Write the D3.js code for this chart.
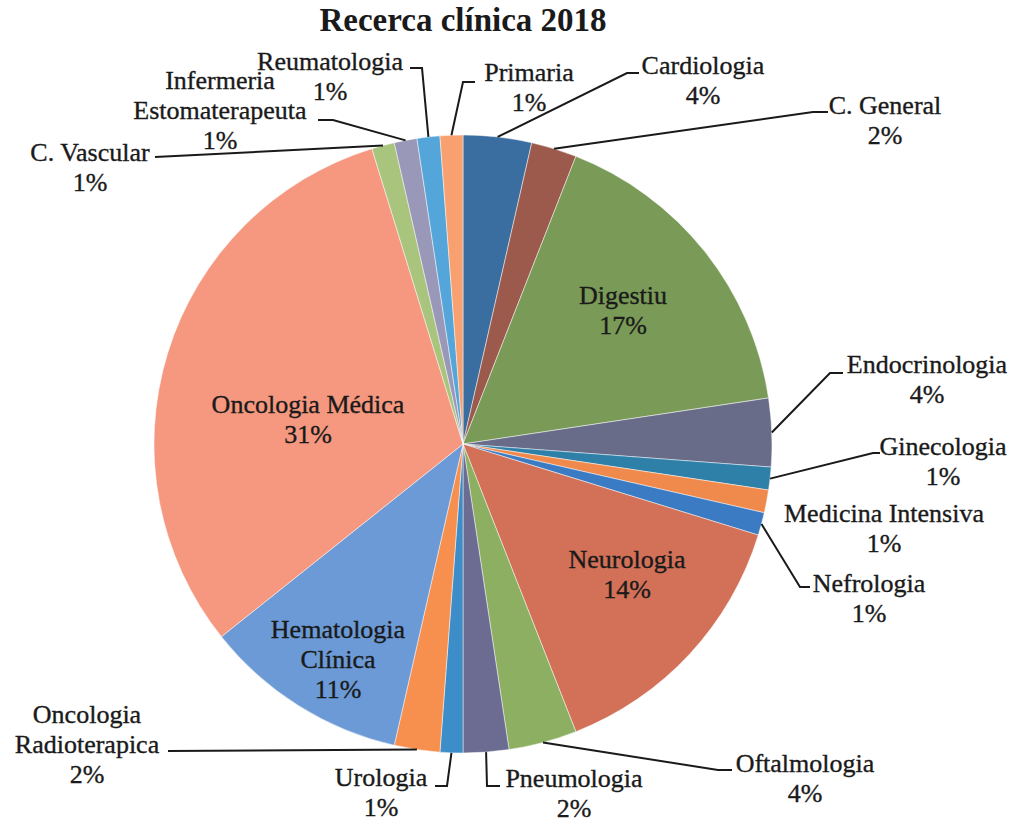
<!DOCTYPE html>
<html>
<head>
<meta charset="utf-8">
<script src="https://cdn.jsdelivr.net/npm/d3@7"></script>
<style>
  body { margin: 0; background: #fff; }
  text { font-family: "Liberation Serif", "DejaVu Serif", serif; fill: #1a1a1a; }
  text.label { stroke: #1a1a1a; stroke-width: 0.35px; }
</style>
</head>
<body>
<div id="chart"></div>
<script>
// slices clockwise from 12 o'clock
var categories = ["Cardiologia", "C. General", "Digestiu", "Endocrinologia", "Ginecologia",
  "Medicina Intensiva", "Nefrologia", "Neurologia", "Oftalmologia", "Pneumologia", "Urologia",
  "Oncologia Radioterapica", "Hematologia Clínica", "Oncologia Médica", "C. Vascular",
  "Infermeria Estomaterapeuta", "Reumatologia", "Primaria"];
var counts = [3, 2, 14, 3, 1, 1, 1, 12, 3, 2, 1, 2, 9, 26, 1, 1, 1, 1];
var colors = ["#3b6ea0", "#9c5a4c", "#7a9a58", "#686c88", "#2f80a8",
  "#f08a4c", "#3b7bc4", "#d27058", "#8daf62", "#6c6c93", "#3d8dc8",
  "#f78f4f", "#6b9ad6", "#f5987f", "#a9c47c",
  "#9a98b8", "#54a6da", "#f9a070"];

var width = 1016, height = 822;
var cx = 463, cy = 444, radius = 309;
var lineH = 30;

// label placement: text lines, center x, first baseline y, leader bends (null = none)
var labelLayout = {
  "Cardiologia": { lines: ["Cardiologia"], x: 703, y: 74, bends: [[627, 73], [639, 73]] },
  "C. General": { lines: ["C. General"], x: 885, y: 114, bends: [[813, 112], [828, 112]] },
  "Digestiu": { lines: ["Digestiu"], x: 623, y: 304, inside: true },
  "Endocrinologia": { lines: ["Endocrinologia"], x: 927, y: 373, bends: [[830, 373], [843, 373]] },
  "Ginecologia": { lines: ["Ginecologia"], x: 943, y: 455, bends: [[873, 453], [880, 453]] },
  "Medicina Intensiva": { lines: ["Medicina Intensiva"], x: 884, y: 522, bends: null },
  "Nefrologia": { lines: ["Nefrologia"], x: 869, y: 592, bends: [[800, 587], [810, 587]] },
  "Neurologia": { lines: ["Neurologia"], x: 627, y: 568, inside: true },
  "Oftalmologia": { lines: ["Oftalmologia"], x: 805, y: 772, bends: [[718, 770], [732, 770]] },
  "Pneumologia": { lines: ["Pneumologia"], x: 574, y: 787, bends: [[487, 786], [500, 786]] },
  "Urologia": { lines: ["Urologia"], x: 381, y: 786, bends: [[447, 786], [435, 786]] },
  "Oncologia Radioterapica": { lines: ["Oncologia", "Radioterapica"], x: 87, y: 723, bends: [[168, 751]] },
  "Hematologia Clínica": { lines: ["Hematologia", "Clínica"], x: 338, y: 638, inside: true },
  "Oncologia Médica": { lines: ["Oncologia Médica"], x: 308, y: 413, inside: true },
  "C. Vascular": { lines: ["C. Vascular"], x: 90, y: 161, bends: [[155, 157]] },
  "Infermeria Estomaterapeuta": { lines: ["Infermeria", "Estomaterapeuta"], x: 220, y: 89, bends: [[333, 120], [318, 120]] },
  "Reumatologia": { lines: ["Reumatologia"], x: 330, y: 70, bends: [[422, 68], [410, 68]] },
  "Primaria": { lines: ["Primaria"], x: 529, y: 81, bends: [[463, 82], [475, 82]] }
};

var total = d3.sum(counts);
var data = categories.map(function (c, i) { return { name: c, value: counts[i], color: colors[i] }; });

var svg = d3.select("#chart").append("svg")
  .attr("width", width)
  .attr("height", height);

svg.append("text")
  .attr("x", cx)
  .attr("y", 31)
  .attr("text-anchor", "middle")
  .style("font-size", "33px")
  .style("font-weight", "bold")
  .text("Recerca clínica 2018");

var pie = d3.pie().sort(null).value(function (d) { return d.value; });
var arc = d3.arc().innerRadius(0).outerRadius(radius);
var arcs = pie(data);

var g = svg.append("g").attr("transform", "translate(" + cx + "," + cy + ")");

g.selectAll("path.slice")
  .data(arcs)
  .enter().append("path")
  .attr("class", "slice")
  .attr("d", arc)
  .attr("fill", function (d) { return d.data.color; })
  .attr("stroke", "#ffffff")
  .attr("stroke-opacity", 0.6)
  .attr("stroke-width", 0.8);

// leader lines from slice edge at its mid angle
var line = d3.line();
svg.selectAll("path.leader")
  .data(arcs.filter(function (d) { return labelLayout[d.data.name].bends; }))
  .enter().append("path")
  .attr("class", "leader")
  .attr("d", function (d) {
    var a = (d.startAngle + d.endAngle) / 2;
    var start = [cx + radius * Math.sin(a), cy - radius * Math.cos(a)];
    return line([start].concat(labelLayout[d.data.name].bends));
  })
  .attr("fill", "none")
  .attr("stroke", "#1a1a1a")
  .attr("stroke-width", 2);

var labels = svg.selectAll("text.label")
  .data(arcs)
  .enter().append("text")
  .attr("class", "label")
  .attr("text-anchor", "middle")
  .style("font-size", "26px");

labels.each(function (d) {
  var lay = labelLayout[d.data.name];
  var pct = Math.round(d.data.value / total * 100) + "%";
  var rows = lay.lines.concat([pct]);
  d3.select(this).selectAll("tspan")
    .data(rows)
    .enter().append("tspan")
    .attr("x", lay.x)
    .attr("y", function (r, i) { return lay.y + i * lineH; })
    .text(function (r) { return r; });
});
</script>
</body>
</html>
